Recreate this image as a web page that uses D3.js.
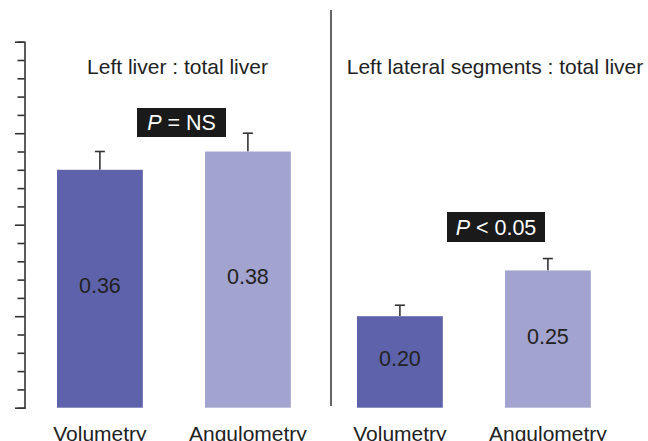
<!DOCTYPE html>
<html><head><meta charset="utf-8">
<script src="https://cdn.jsdelivr.net/npm/d3@7"></script>
<style>body{margin:0;background:#fff}svg{display:block}text{font-family:"Liberation Sans",Arial,sans-serif}</style>
</head><body><svg id="c" width="648" height="441"></svg>
<script>
const panels = ["Left liver : total liver", "Left lateral segments : total liver"];
const categories = ["Volumetry", "Angulometry"];
const values = [[0.36, 0.38], [0.20, 0.25]];
const errors = [[0.02, 0.02], [0.012, 0.013]];
const pLabels = [["P", " = NS"], ["P", " < 0.05"]];
const valueLabels = [["0.36", "0.38"], ["0.20", "0.25"]];
const colors = ["#5e62aa", "#a3a3cf"];

const svg = d3.select("#c");
const y = d3.scaleLinear().domain([0.1, 0.5]).range([407.7, 41.7]);
const outer = d3.scaleBand().domain(panels).range([23.9, 623.9]);
const inner = d3.scaleBand().domain(categories).range([0, 300]).paddingInner(0.42).paddingOuter(0.2235);

// axis
const ticks = d3.range(0, 21).map(i => +(0.1 + i * 0.02).toFixed(2));
const ax = svg.append("g").attr("transform", "translate(24.5,0)")
  .call(d3.axisLeft(y).tickValues(ticks).tickFormat("").tickSizeOuter(0)
    .tickSize(7));
ax.selectAll(".tick line").attr("x2", (d, i) => i % 5 === 0 ? -9.5 : -7).attr("stroke", "#333").attr("stroke-width", 1.6);
ax.select(".domain").attr("stroke", "#333").attr("stroke-width", 1.6);

// divider
svg.append("line").attr("x1", 331).attr("x2", 331).attr("y1", 10).attr("y2", 406)
  .attr("stroke", "#333").attr("stroke-width", 1.5);

const titleX = [177.5, 495];
const boxes = [{cx: 181.5, y0: 108, y1: 137}, {cx: 496, y0: 212, y1: 242}];
const boxW = [89, 98];

panels.forEach((p, pi) => {
  const g = svg.append("g").attr("transform", `translate(${outer(p)},0)`);
  categories.forEach((c, ci) => {
    const v = values[pi][ci], e = errors[pi][ci];
    const x0 = inner(c), bw = inner.bandwidth(), cx = x0 + bw / 2;
    g.append("line").attr("x1", cx).attr("x2", cx).attr("y1", y(v)).attr("y2", y(v + e))
      .attr("stroke", "#333").attr("stroke-width", 1.6);
    g.append("line").attr("x1", cx - 5).attr("x2", cx + 5).attr("y1", y(v + e)).attr("y2", y(v + e))
      .attr("stroke", "#333").attr("stroke-width", 1.6);
    g.append("rect").attr("x", x0).attr("width", bw).attr("y", y(v)).attr("height", y(0.1) - y(v))
      .attr("fill", colors[ci]);
    g.append("text").attr("x", cx).attr("y", (y(v) + y(0.1)) / 2 - 3).attr("dy", "0.35em")
      .attr("text-anchor", "middle").attr("font-size", 21.5).attr("fill", "#222").text(valueLabels[pi][ci]);
    svg.append("text").attr("x", outer(p) + cx).attr("y", 441).attr("text-anchor", "middle")
      .attr("font-size", 21).attr("fill", "#222").text(c);
  });
  svg.append("text").attr("x", titleX[pi]).attr("y", 74).attr("text-anchor", "middle")
    .attr("font-size", 21).attr("fill", "#222").text(p);
  const b = boxes[pi];
  svg.append("rect").attr("x", b.cx - boxW[pi] / 2).attr("width", boxW[pi]).attr("y", b.y0).attr("height", b.y1 - b.y0)
    .attr("fill", "#1a1a1a");
  const t = svg.append("text").attr("x", b.cx).attr("y", (b.y0 + b.y1) / 2 + 7.5).attr("text-anchor", "middle")
    .attr("font-size", 21.5).attr("fill", "#fff");
  t.append("tspan").attr("font-style", "italic").text(pLabels[pi][0]);
  t.append("tspan").text(pLabels[pi][1]);
});
</script></body></html>
